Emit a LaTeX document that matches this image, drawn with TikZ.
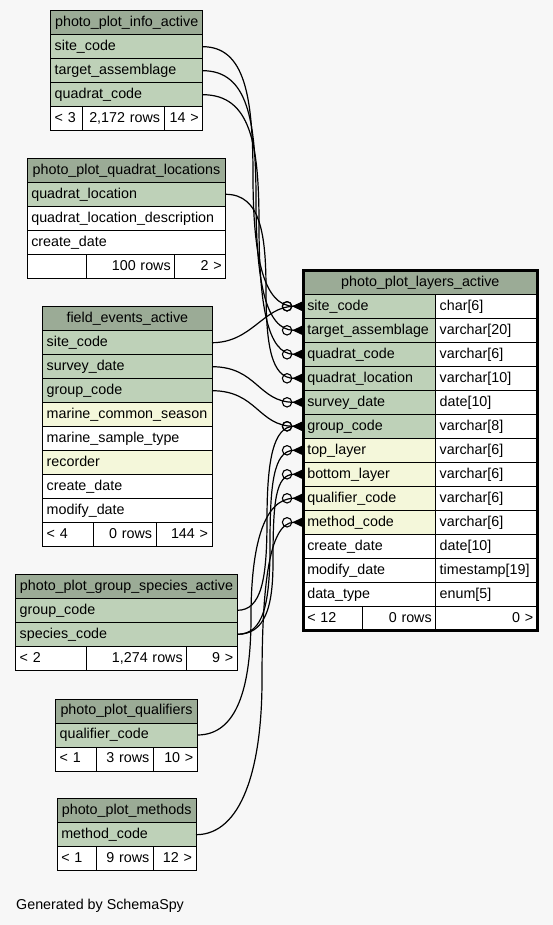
\documentclass[tikz,border=0pt]{standalone}
\usepackage{fontspec}
\setmainfont{Liberation Sans}
\usetikzlibrary{positioning, arrows.meta}

\definecolor{bgc}{HTML}{F7F7F7}
\definecolor{headgreen}{HTML}{9BAB96}
\definecolor{keygreen}{HTML}{BED1B8}
\definecolor{idxyellow}{HTML}{F4F7DA}
\newcommand{\cellfont}{\fontsize{14.3}{17}\selectfont}

\begin{document}
\begin{tikzpicture}[
    x=1pt, y=-1pt,
    cell/.style={draw=black, line width=1pt, outer sep=0pt,
                 inner xsep=4pt, inner ysep=0pt, minimum height=24pt,
                 text height=10.5pt, text depth=3pt, font=\cellfont},
    hdr/.style={cell, fill=headgreen, align=center, text width=#1},
    pk/.style={cell, fill=keygreen, align=left, text width=#1},
    idx/.style={cell, fill=idxyellow, align=left, text width=#1},
    nrm/.style={cell, fill=white, align=left, text width=#1},
    footl/.style={cell, fill=white, align=left, text width=#1},
    footr/.style={cell, fill=white, align=right, text width=#1},
    fk/.style={line width=1.2pt,
               -{Circle[open, length=10.5pt, line width=1.1pt]
                 Triangle[reversed, length=11pt, width=10pt]}}
]
\fill[bgc] (0,0) rectangle (553,925);

%---------------- photo_plot_info_active ----------------
\node[hdr=144pt, anchor=north west] (info) at (50.7,10.7) {photo\_plot\_info\_active};
\node[pk=144pt, below=0pt of info] (info-site) {site\_code};
\node[pk=144pt, below=0pt of info-site] (info-target) {target\_assemblage};
\node[pk=144pt, below=0pt of info-target] (info-quad) {quadrat\_code};
\node[footl=24pt, anchor=north west] (info-f1) at (info-quad.south west) {< 3};
\node[footr=73.3pt, right=0pt of info-f1] (info-f2) {2,172 rows};
\node[footr=30.7pt, right=0pt of info-f2] (info-f3) {14 >};

%---------------- photo_plot_quadrat_locations ----------------
\node[hdr=190.4pt, anchor=north west] (loc) at (27.3,158.3) {photo\_plot\_quadrat\_locations};
\node[pk=190.4pt, below=0pt of loc] (loc-loc) {quadrat\_location};
\node[nrm=190.4pt, below=0pt of loc-loc] (loc-desc) {quadrat\_location\_description};
\node[nrm=190.4pt, below=0pt of loc-desc] (loc-create) {create\_date};
\node[footl=51.4pt, anchor=north west] (loc-f1) at (loc-create.south west) {};
\node[footr=80pt, right=0pt of loc-f1] (loc-f2) {100 rows};
\node[footr=43pt, right=0pt of loc-f2] (loc-f3) {2 >};

%---------------- field_events_active ----------------
\node[hdr=161.3pt, anchor=north west] (fe) at (42.7,306.7) {field\_events\_active};
\node[pk=161.3pt, below=0pt of fe] (fe-site) {site\_code};
\node[pk=161.3pt, below=0pt of fe-site] (fe-survey) {survey\_date};
\node[pk=161.3pt, below=0pt of fe-survey] (fe-group) {group\_code};
\node[idx=161.3pt, below=0pt of fe-group] (fe-season) {marine\_common\_season};
\node[nrm=161.3pt, below=0pt of fe-season] (fe-type) {marine\_sample\_type};
\node[idx=161.3pt, below=0pt of fe-type] (fe-rec) {recorder};
\node[nrm=161.3pt, below=0pt of fe-rec] (fe-create) {create\_date};
\node[nrm=161.3pt, below=0pt of fe-create] (fe-modify) {modify\_date};
\node[footl=42.6pt, anchor=north west] (fe-f1) at (fe-modify.south west) {< 4};
\node[footr=54.7pt, right=0pt of fe-f1] (fe-f2) {0 rows};
\node[footr=48pt, right=0pt of fe-f2] (fe-f3) {144 >};

%---------------- photo_plot_layers_active ----------------
\node[hdr=226pt, anchor=north west] (lay) at (303.3,270.3) {photo\_plot\_layers\_active};
\node[pk=124.4pt, anchor=north west] (lay-site) at (lay.south west) {site\_code};
\node[pk=124.4pt, below=0pt of lay-site] (lay-target) {target\_assemblage};
\node[pk=124.4pt, below=0pt of lay-target] (lay-quad) {quadrat\_code};
\node[pk=124.4pt, below=0pt of lay-quad] (lay-loc) {quadrat\_location};
\node[pk=124.4pt, below=0pt of lay-loc] (lay-survey) {survey\_date};
\node[pk=124.4pt, below=0pt of lay-survey] (lay-group) {group\_code};
\node[idx=124.4pt, below=0pt of lay-group] (lay-top) {top\_layer};
\node[idx=124.4pt, below=0pt of lay-top] (lay-bottom) {bottom\_layer};
\node[idx=124.4pt, below=0pt of lay-bottom] (lay-qual) {qualifier\_code};
\node[idx=124.4pt, below=0pt of lay-qual] (lay-method) {method\_code};
\node[nrm=124.4pt, below=0pt of lay-method] (lay-create) {create\_date};
\node[nrm=124.4pt, below=0pt of lay-create] (lay-modify) {modify\_date};
\node[nrm=124.4pt, below=0pt of lay-modify] (lay-dtype) {data\_type};
\node[nrm=93.6pt, right=0pt of lay-site] (lay-site-t) {char[6]};
\node[nrm=93.6pt, right=0pt of lay-target] (lay-target-t) {varchar[20]};
\node[nrm=93.6pt, right=0pt of lay-quad] (lay-quad-t) {varchar[6]};
\node[nrm=93.6pt, right=0pt of lay-loc] (lay-loc-t) {varchar[10]};
\node[nrm=93.6pt, right=0pt of lay-survey] (lay-survey-t) {date[10]};
\node[nrm=93.6pt, right=0pt of lay-group] (lay-group-t) {varchar[8]};
\node[nrm=93.6pt, right=0pt of lay-top] (lay-top-t) {varchar[6]};
\node[nrm=93.6pt, right=0pt of lay-bottom] (lay-bottom-t) {varchar[6]};
\node[nrm=93.6pt, right=0pt of lay-qual] (lay-qual-t) {varchar[6]};
\node[nrm=93.6pt, right=0pt of lay-method] (lay-method-t) {varchar[6]};
\node[nrm=93.6pt, right=0pt of lay-create] (lay-create-t) {date[10]};
\node[nrm=93.6pt, right=0pt of lay-modify] (lay-modify-t) {timestamp[19]};
\node[nrm=93.6pt, right=0pt of lay-dtype] (lay-dtype-t) {enum[5]};
\node[footl=51.4pt, anchor=north west] (lay-f1) at (lay-dtype.south west) {< 12};
\node[footr=65pt, right=0pt of lay-f1] (lay-f2) {0 rows};
\node[footr=93.6pt, right=0pt of lay-f2] (lay-f3) {0 >};
\draw[line width=3pt] (lay.north west) rectangle (lay-f3.south east);

%---------------- photo_plot_group_species_active ----------------
\node[hdr=213.6pt, anchor=north west] (gs) at (15.7,574.3) {photo\_plot\_group\_species\_active};
\node[pk=213.6pt, below=0pt of gs] (gs-group) {group\_code};
\node[pk=213.6pt, below=0pt of gs-group] (gs-species) {species\_code};
\node[footl=63pt, anchor=north west] (gs-f1) at (gs-species.south west) {< 2};
\node[footr=92pt, right=0pt of gs-f1] (gs-f2) {1,274 rows};
\node[footr=42.6pt, right=0pt of gs-f2] (gs-f3) {9 >};

%---------------- photo_plot_qualifiers ----------------
\node[hdr=133.6pt, anchor=north west] (qual) at (55.7,699) {photo\_plot\_qualifiers};
\node[pk=133.6pt, below=0pt of qual] (qual-code) {qualifier\_code};
\node[footl=32.3pt, anchor=north west] (qual-f1) at (qual-code.south west) {< 1};
\node[footr=49.3pt, right=0pt of qual-f1] (qual-f2) {3 rows};
\node[footr=36pt, right=0pt of qual-f2] (qual-f3) {10 >};

%---------------- photo_plot_methods ----------------
\node[hdr=130.7pt, anchor=north west] (meth) at (57.3,798.7) {photo\_plot\_methods};
\node[pk=130.7pt, below=0pt of meth] (meth-code) {method\_code};
\node[footl=30.7pt, anchor=north west] (meth-f1) at (meth-code.south west) {< 1};
\node[footr=49.3pt, right=0pt of meth-f1] (meth-f2) {9 rows};
\node[footr=34.7pt, right=0pt of meth-f2] (meth-f3) {12 >};

\node[anchor=west, font=\cellfont, inner sep=0pt] (credit) at (16,906) {Generated by SchemaSpy};

%---------------- foreign keys ----------------
% bend points where the long splines run vertically
\coordinate (via-site) at (253,176);
\coordinate (via-target) at (256,200);
\coordinate (via-quad) at (259,224);
\coordinate (via-loc) at (266,290);
\coordinate (via-gsgroup) at (267,520);
\coordinate (via-top) at (270,545);
\coordinate (via-bottom) at (273,562);
\coordinate (via-qual) at (251,617);
\coordinate (via-method) at (262,680);

\draw[fk] (info-site.east) .. controls +(42,0) and +(0,-80) .. (via-site)
          .. controls +(0,80) and +(-40,0) .. (lay-site.west);
\draw[fk] (info-target.east) .. controls +(45,0) and +(0,-80) .. (via-target)
          .. controls +(0,80) and +(-38,0) .. (lay-target.west);
\draw[fk] (info-quad.east) .. controls +(48,0) and +(0,-80) .. (via-quad)
          .. controls +(0,80) and +(-36,0) .. (lay-quad.west);
\draw[fk] (loc-loc.east) .. controls +(35,0) and +(0,-55) .. (via-loc)
          .. controls +(0,55) and +(-32,0) .. (lay-loc.west);
\draw[fk] (fe-site.east) .. controls +(40,0) and +(-40,0) .. (lay-site.west);
\draw[fk] (fe-survey.east) .. controls +(45,0) and +(-45,0) .. (lay-survey.west);
\draw[fk] (fe-group.east) .. controls +(45,0) and +(-45,0) .. (lay-group.west);
\draw[fk] (gs-group.east) .. controls +(24,0) and +(0,60) .. (via-gsgroup)
          .. controls +(0,-60) and +(-30,0) .. (lay-group.west);
\draw[fk] (gs-species.east) .. controls +(26,0) and +(0,60) .. (via-top)
          .. controls +(0,-60) and +(-30,0) .. (lay-top.west);
\draw[fk] (gs-species.east) .. controls +(28,0) and +(0,45) .. (via-bottom)
          .. controls +(0,-60) and +(-28,0) .. (lay-bottom.west);
\draw[fk] (qual-code.east) .. controls +(40,0) and +(0,70) .. (via-qual)
          .. controls +(0,-70) and +(-40,0) .. (lay-qual.west);
\draw[fk] (meth-code.east) .. controls +(45,0) and +(0,90) .. (via-method)
          .. controls +(0,-90) and +(-35,0) .. (lay-method.west);

\end{tikzpicture}
\end{document}
